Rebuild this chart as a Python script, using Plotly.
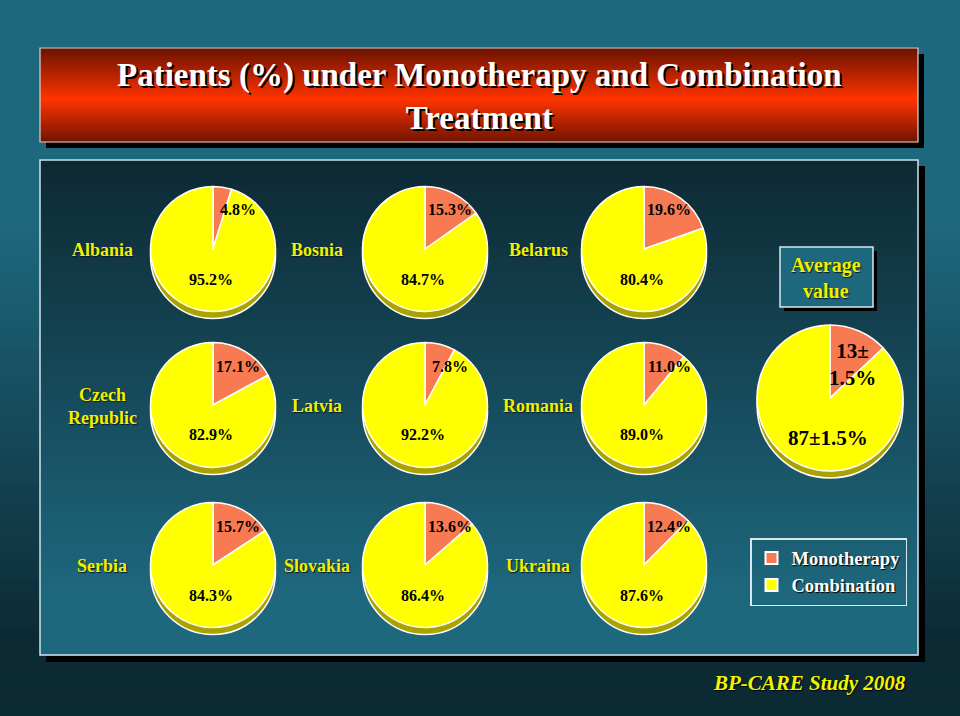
import plotly.graph_objects as go

# ---------------- data ----------------
countries = ["Albania", "Bosnia", "Belarus",
             "Czech<br>Republic", "Latvia", "Romania",
             "Serbia", "Slovakia", "Ukraina"]
monotherapy = [4.8, 15.3, 19.6, 17.1, 7.8, 11.0, 15.7, 13.6, 12.4]
combination = [95.2, 84.7, 80.4, 82.9, 92.2, 89.0, 84.3, 86.4, 87.6]
series_names = ["Monotherapy", "Combination"]
avg_mono = 13
avg_combo = 87
avg_sd = 1.5
title_text = "Patients (%) under Monotherapy and Combination<br>Treatment"
footer_text = "BP-CARE Study 2008"
avg_title = "Average<br>value"

# ---------------- layout helpers ----------------
W, H = 960, 716
def X(px):
    return px / W
def Y(py):
    return 1 - py / H

MONO_C = "#f87a52"
COMB_C = "#ffff00"
DEPTH_C = "#aaa200"
LABEL_Y = "#f0f000"
FONT = "Liberation Serif"

col_cx = [213, 425, 644]
row_cy = [249, 405, 565]
label_cx = [102, 317, 538]
R = 62.5

shapes = []

def lerp(c1, c2, t):
    return tuple(int(round(a + (b - a) * t)) for a, b in zip(c1, c2))

def rgb(c):
    return "rgb(%d,%d,%d)" % c

def strips(x0, x1, y0, y1, colfun, n=60):
    h = (y1 - y0) / n
    for i in range(n):
        t = (i + 0.5) / n
        shapes.append(dict(type="rect", xref="paper", yref="paper",
                           x0=X(x0), x1=X(x1), y0=Y(y0 + i * h - 0.5), y1=Y(y0 + (i + 1) * h + 0.5),
                           fillcolor=rgb(colfun(t)), line=dict(width=0), layer="below"))

TEAL = (30, 104, 126)
DARK = (12, 42, 52)

# page background: teal top -> dark bottom
def page_col(t):
    py = t * H
    if py < 220:
        return TEAL
    if py > 640:
        return DARK
    return lerp(TEAL, DARK, (py - 220) / 420)
strips(0, W, 0, H, page_col, n=80)

# title box
shapes.append(dict(type="rect", xref="paper", yref="paper", x0=X(46), x1=X(924), y0=Y(148), y1=Y(54),
                   fillcolor="black", line=dict(width=0), layer="below"))
DR1 = (105, 18, 0)
BR = (255, 52, 0)
DR2 = (115, 20, 0)
def title_col(t):
    if t < 0.55:
        return lerp(DR1, BR, t / 0.55)
    return lerp(BR, DR2, (t - 0.55) / 0.45)
strips(40, 918, 48, 142, title_col, n=60)
shapes.append(dict(type="rect", xref="paper", yref="paper", x0=X(40), x1=X(918), y0=Y(142), y1=Y(48),
                   fillcolor="rgba(0,0,0,0)", line=dict(width=1.2, color="#d8d8d8"), layer="below"))

# main panel
shapes.append(dict(type="rect", xref="paper", yref="paper", x0=X(46), x1=X(925), y0=Y(662), y1=Y(166),
                   fillcolor="black", line=dict(width=0), layer="below"))
PD = (13, 41, 51)
def panel_col(t):
    py = 160 + t * 495
    if py > 600:
        return TEAL
    return lerp(PD, TEAL, (py - 160) / 440)
strips(40, 918, 160, 655, panel_col, n=80)
shapes.append(dict(type="rect", xref="paper", yref="paper", x0=X(40), x1=X(918), y0=Y(655), y1=Y(160),
                   fillcolor="rgba(0,0,0,0)", line=dict(width=1.5, color="#cfe2ec"), layer="below"))

# average value box
shapes.append(dict(type="rect", xref="paper", yref="paper", x0=X(784), x1=X(877), y0=Y(311), y1=Y(251),
                   fillcolor="black", line=dict(width=0), layer="below"))
shapes.append(dict(type="rect", xref="paper", yref="paper", x0=X(780), x1=X(873), y0=Y(307), y1=Y(247),
                   fillcolor=rgb(TEAL), line=dict(width=1.5, color="#d6e8f0"), layer="below"))

annotations = []

def ann(px, py, text, size, color, shadow="none", xanchor="center"):
    annotations.append(dict(x=X(px), y=Y(py), xref="paper", yref="paper", text=text,
                            showarrow=False, xanchor=xanchor, yanchor="middle", align="center",
                            font=dict(family=FONT, size=size, color=color, shadow=shadow)))

fig = go.Figure()

# country pies
for i, name in enumerate(countries):
    cx = col_cx[i % 3]
    cy = row_cy[i // 3]
    # depth (3D rim)
    shapes.append(dict(type="circle", xref="paper", yref="paper",
                       x0=X(cx - R), x1=X(cx + R), y0=Y(cy + R + 7), y1=Y(cy - R + 7),
                       fillcolor=DEPTH_C, line=dict(width=1.5, color="white"), layer="below"))
    fig.add_trace(go.Pie(
        labels=series_names, values=[monotherapy[i], combination[i]],
        domain=dict(x=[X(cx - R), X(cx + R)], y=[Y(cy + R), Y(cy - R)]),
        sort=False, direction="clockwise", rotation=0,
        marker=dict(colors=[MONO_C, COMB_C], line=dict(color="white", width=1.5)),
        textinfo="none", hoverinfo="label+percent", showlegend=(i == 0),
    ))
    ann(cx + 25, cy - 39, "<b>%.1f%%</b>" % monotherapy[i], 16, "black")
    ann(cx - 2, cy + 30, "<b>%.1f%%</b>" % combination[i], 16, "black")
    ann(label_cx[i % 3], cy + 1, "<b>%s</b>" % name, 18, LABEL_Y, shadow="1px 1px 1px #0a1a20")

# average pie
acx, acy, AR = 830, 398, 73
shapes.append(dict(type="circle", xref="paper", yref="paper",
                   x0=X(acx - AR), x1=X(acx + AR), y0=Y(acy + AR + 7), y1=Y(acy - AR + 7),
                   fillcolor=DEPTH_C, line=dict(width=1.5, color="white"), layer="below"))
fig.add_trace(go.Pie(
    labels=series_names, values=[avg_mono, avg_combo],
    domain=dict(x=[X(acx - AR), X(acx + AR)], y=[Y(acy + AR), Y(acy - AR)]),
    sort=False, direction="clockwise", rotation=0,
    marker=dict(colors=[MONO_C, COMB_C], line=dict(color="white", width=1.5)),
    textinfo="none", hoverinfo="label+percent", showlegend=False,
))
ann(acx + 22, acy - 34, "<b>%d±<br>%.1f%%</b>" % (avg_mono, avg_sd), 21, "black")
ann(acx - 2, acy + 40, "<b>%d±%.1f%%</b>" % (avg_combo, avg_sd), 21, "black")

ann(826, 278, "<b>%s</b>" % avg_title, 20, LABEL_Y, shadow="1px 1px 1px #0a1a20")

# title and footer
ann(479, 97, "<b>%s</b>" % title_text, 33, "white", shadow="2px 2px 0px black")
annotations.append(dict(x=X(908), y=Y(683), xref="paper", yref="paper",
                        text="<b><i>%s</i></b>" % footer_text, showarrow=False,
                        xanchor="right", yanchor="middle",
                        font=dict(family=FONT, size=21, color="#f4f400", shadow="1px 1px 1px black")))

fig.update_layout(
    width=W, height=H,
    margin=dict(l=0, r=0, t=0, b=0),
    paper_bgcolor=rgb(TEAL), plot_bgcolor="rgba(0,0,0,0)",
    shapes=shapes, annotations=annotations,
    showlegend=True,
    legend=dict(x=X(750), y=Y(538), xanchor="left", yanchor="top",
                bgcolor="rgba(0,0,0,0)", bordercolor="#d6e8f0", borderwidth=1.5,
                font=dict(family=FONT, size=18.5, color="white", shadow="1px 1px 1px black", weight="bold"),
                itemsizing="constant", tracegroupgap=0,
                traceorder="normal"),
)

fig.write_html("out.html", config={"displayModeBar": False},
               post_script="document.body.style.margin='0';document.body.style.overflow='hidden';")
